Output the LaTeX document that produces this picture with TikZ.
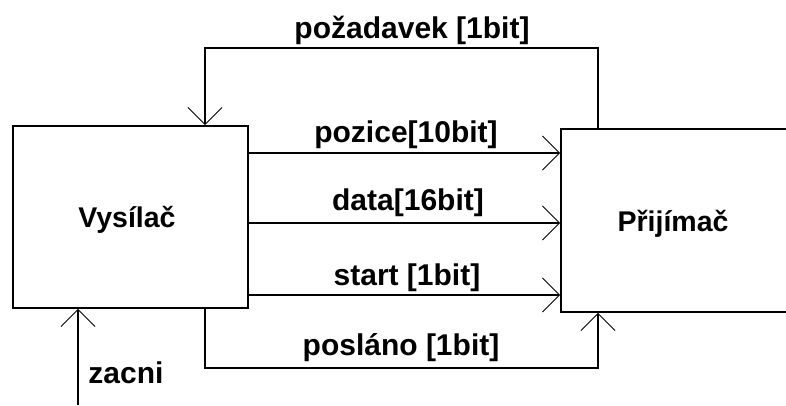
\documentclass[tikz,border=0pt]{standalone}
\usepackage{fontspec}
\setmainfont{Liberation Sans}
\usetikzlibrary{arrows.meta}
\begin{document}
\begin{tikzpicture}[x=1pt,y=-1pt,
  box/.style={draw, line width=1.8pt, rectangle, inner sep=0pt},
  lbl/.style={font=\fontsize{30}{32}\selectfont\bfseries, inner sep=0pt, anchor=base},
  blbl/.style={font=\fontsize{28.5}{30}\selectfont\bfseries, inner sep=0pt, anchor=base},
  arr/.style={line width=1.8pt, -{Straight Barb[length=17pt, width=34pt, line width=0.9pt]}},
  ln/.style={line width=1.8pt}]
\clip (0,0) rectangle (786,405);
\node[box, minimum width=235pt, minimum height=182pt] (vx) at (130.5,217) {};
\node[blbl] (vxt) at (127,227) {Vysílač};
\node[box, minimum width=260pt, minimum height=183pt] (rx) at (691,220.5) {};
\node[blbl] (rxt) at (673,231) {Přijímač};
\coordinate (xr) at (598,0);
\coordinate (xl) at (205,0);
\coordinate (xz) at (78,0);
\coordinate (ya) at (0,153);
\coordinate (yb) at (0,223);
\coordinate (yc) at (0,295);
\coordinate (zb) at (78,405);
\draw[arr] (rx.north -| xr) -- ++(0,-80) -| (vx.north -| xl);
\draw[arr] (vx.east |- ya) -- (rx.west |- ya);
\draw[arr] (vx.east |- yb) -- (rx.west |- yb);
\draw[arr] (vx.east |- yc) -- (rx.west |- yc);
\draw[arr] (vx.south -| xl) -- ++(0,59) -| (rx.south -| xr);
\draw[arr] (zb) -- (vx.south -| xz);
\node[lbl] (l1) at (412,38) {požadavek [1bit]};
\node[lbl] (l2) at (406,142) {pozice[10bit]};
\node[lbl] (l3) at (408,210) {data[16bit]};
\node[lbl] (l4) at (407,285) {start [1bit]};
\node[lbl] (l5) at (401,355) {posláno [1bit]};
\node[lbl] (l6) at (126,383) {zacni};
\end{tikzpicture}
\end{document}
